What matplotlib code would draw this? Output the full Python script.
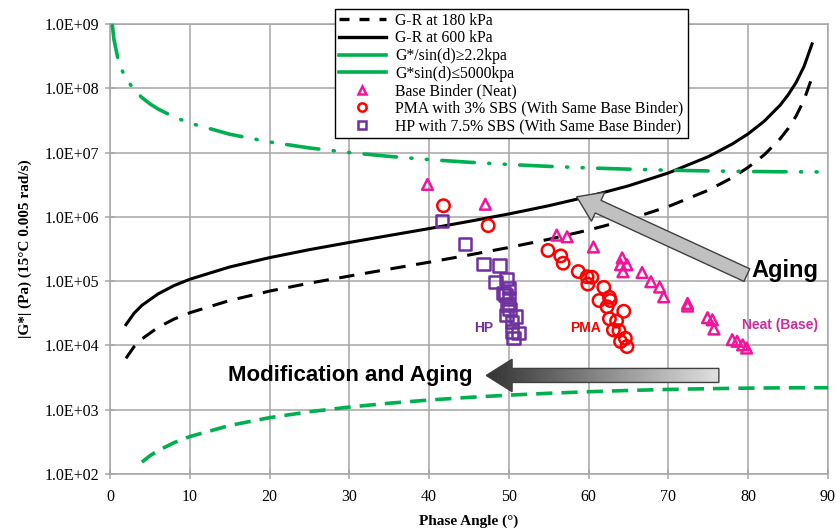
import numpy as np
import matplotlib
matplotlib.use("Agg")
from matplotlib import pyplot as plt
from matplotlib.lines import Line2D
from matplotlib.patches import Polygon

# phase angle (deg) sample points for the criteria curves
gr_angle = [2, 3, 4, 6, 8, 10, 15, 20, 25, 30, 35, 40, 45, 50, 55, 60, 65, 70,
            75, 78, 80, 82, 84, 85, 86, 87, 88]
gr_180 = [6.3e3, 9.5e3, 1.26e4, 1.9e4, 2.56e4, 3.22e4, 5.0e4, 7.0e4, 9.3e4, 1.2e5,
          1.54e5, 1.97e5, 2.55e5, 3.34e5, 4.48e5, 6.24e5, 9.1e5, 1.45e6, 2.6e6,
          4.07e6, 5.9e6, 9.2e6, 1.64e7, 2.36e7, 3.7e7, 6.6e7, 1.48e8]
gr_600 = [2.1e4, 3.15e4, 4.2e4, 6.3e4, 8.5e4, 1.07e5, 1.66e5, 2.32e5, 3.09e5, 4.0e5,
          5.13e5, 6.57e5, 8.5e5, 1.11e6, 1.49e6, 2.08e6, 3.04e6, 4.82e6, 8.65e6,
          1.36e7, 1.96e7, 3.07e7, 5.46e7, 7.9e7, 1.23e8, 2.19e8, 4.9e8]

top_angle = [0.3, 0.5, 1, 1.5, 2, 3, 4, 5, 6, 8, 10, 15, 20, 25, 30, 35, 40, 45, 50,
             55, 60, 65, 70, 75, 80, 85, 90]
top_g = [9.5e8, 5.7e8, 2.86e8, 1.91e8, 1.43e8, 9.55e7, 7.17e7, 5.74e7, 4.78e7,
         3.59e7, 2.88e7, 1.93e7, 1.46e7, 1.18e7, 1.0e7, 8.72e6, 7.78e6, 7.07e6,
         6.53e6, 6.1e6, 5.77e6, 5.52e6, 5.32e6, 5.18e6, 5.08e6, 5.02e6, 5.0e6]

low_angle = [4, 5, 6, 8, 10, 15, 20, 25, 30, 35, 40, 45, 50, 55, 60, 65, 70, 75,
             80, 85, 90]
low_g = [153, 192, 230, 306, 382, 569, 752, 930, 1100, 1262, 1414, 1556, 1685,
         1802, 1905, 1994, 2067, 2125, 2167, 2192, 2200]

# measured binders
neat_x = [39.8, 47.05, 56.0, 57.3, 60.6, 64.2, 64.0, 64.8, 64.3, 66.7, 67.8, 68.9,
          69.4, 72.4, 72.4, 74.9, 75.5, 75.7, 78.0, 78.6, 79.3, 79.8]
neat_y = [3.2e6, 1.57e6, 5.2e5, 4.9e5, 3.4e5, 2.3e5, 1.8e5, 1.8e5, 1.4e5, 1.36e5,
          9.8e4, 8.1e4, 5.7e4, 4.5e4, 4.1e4, 2.7e4, 2.5e4, 1.8e4, 1.23e4, 1.16e4,
          1.02e4, 9.1e3]

pma_x = [41.8, 47.4, 54.9, 56.5, 56.8, 58.7, 59.8, 60.4, 59.9, 61.9, 62.6, 61.3,
         62.7, 62.3, 64.4, 63.5, 62.6, 63.8, 63.1, 64.6, 64.0, 64.8]
pma_y = [1.49e6, 7.3e5, 3.0e5, 2.47e5, 1.9e5, 1.41e5, 1.17e5, 1.15e5, 9.0e4, 8.0e4,
         5.6e4, 5.0e4, 5.0e4, 4.0e4, 3.4e4, 2.4e4, 2.6e4, 1.7e4, 1.74e4, 1.29e4,
         1.15e4, 9.6e3]

hp_x = [41.6, 44.5, 46.8, 48.8, 48.3, 49.7, 50.0, 49.6, 50.0, 49.8, 49.7, 50.9,
        50.4, 51.2, 50.6, 50.4, 49.3, 50.1]
hp_y = [8.6e5, 3.75e5, 1.83e5, 1.74e5, 9.6e4, 1.07e5, 7.8e4, 6.1e4, 5.4e4, 4.3e4,
        3.0e4, 2.8e4, 2.3e4, 1.55e4, 1.3e4, 1.64e4, 6.5e4, 3.7e4]

x_ticks = list(range(0, 91, 10))
y_ticks = [1e2, 1e3, 1e4, 1e5, 1e6, 1e7, 1e8, 1e9]

green = "#00B050"
pink = "#F0169C"
purple = "#7030A0"
grid_gray = "#A6A6A6"
serif = ["Liberation Serif", "DejaVu Serif"]
sans = ["Liberation Sans", "DejaVu Sans"]

fig = plt.figure(figsize=(8.4, 5.29), dpi=100)
ax = fig.add_axes([110 / 840, 1 - 474 / 529, 718 / 840, 450 / 529])
ax.set_yscale("log")

ax.plot(gr_angle, gr_180, color="black", lw=2.2, dashes=(5, 3.5), zorder=3)
ax.plot(gr_angle, gr_600, color="black", lw=2.2, zorder=3)
ax.plot(top_angle, top_g, color=green, lw=2.6, zorder=3,
        dashes=(9, 4, 0.3, 4, 0.3, 4), dash_capstyle="round")
ax.plot(low_angle, low_g, color=green, lw=2.6, dashes=(4.5, 2.5), zorder=3)

ax.scatter(neat_x, neat_y, marker="^", s=60, facecolors="none", edgecolors=pink,
           linewidths=1.8, zorder=4)
ax.scatter(pma_x, pma_y, marker="o", s=80, facecolors="none", edgecolors="red",
           linewidths=1.8, zorder=4)
ax.scatter(hp_x, hp_y, marker="s", s=80, facecolors="none", edgecolors=purple,
           linewidths=1.8, zorder=4)

ax.set_xlim(0, 90)
ax.set_ylim(1e2, 1e9)
ax.set_xticks(x_ticks)
ax.set_yticks(y_ticks)
ax.yaxis.set_minor_locator(matplotlib.ticker.NullLocator())
ax.set_yticklabels([f"{v:.1E}" for v in y_ticks])
ax.grid(True, color=grid_gray, lw=1.1, zorder=0)
ax.set_axisbelow(True)
for sp in ax.spines.values():
    sp.set_color(grid_gray)
    sp.set_linewidth(1.1)
ax.tick_params(direction="inout", length=7, color=grid_gray, width=1.1,
               labelsize=11.5)
ax.tick_params(axis="x", pad=7)
ax.tick_params(axis="y", pad=4)
for lab in ax.get_xticklabels() + ax.get_yticklabels():
    lab.set_family(serif)
ax.set_xlabel("Phase Angle (°)", family=serif, fontweight="bold", fontsize=11,
              labelpad=7)
ax.set_ylabel("|G*| (Pa) (15°C 0.005 rad/s)", family=serif, fontweight="bold",
              fontsize=11, labelpad=9)

# group labels
ax.text(0.52, 0.325, "HP", transform=ax.transAxes, color=purple, fontsize=10,
        fontweight="bold", family=sans, ha="center", va="center")
ax.text(0.662, 0.325, "PMA", transform=ax.transAxes, color="red", fontsize=10,
        fontweight="bold", family=sans, ha="center", va="center")
ax.text(0.933, 0.33, "Neat (Base)", transform=ax.transAxes, color="#C8309A",
        fontsize=10, fontweight="bold", family=sans, ha="center", va="center")

# aging arrow
ax.annotate("", xy=(0.650, 0.616), xytext=(0.887, 0.442),
            xycoords="axes fraction", textcoords="axes fraction",
            arrowprops=dict(arrowstyle="simple,head_width=1.15,head_length=0.85,tail_width=0.5",
                            mutation_scale=20, fc="#C0C0C0", ec="#404040", lw=1,
                            shrinkA=0, shrinkB=0), zorder=6)
ax.text(0.893, 0.452, "Aging", transform=ax.transAxes, fontsize=17,
        fontweight="bold", family=sans, ha="left", va="center", zorder=6)

# gradient arrow
tip, base, tail, yc = 0.524, 0.560, 0.848, 0.219
sh, hh = 0.0156, 0.036
verts = [(tip, yc), (base, yc + hh), (base, yc + sh), (tail, yc + sh),
         (tail, yc - sh), (base, yc - sh), (base, yc - hh)]
arrow = Polygon(verts, closed=True, transform=ax.transAxes, fc="none",
                ec="#404040", lw=1, zorder=7)
ax.add_patch(arrow)
grad = np.linspace(0.2, 0.88, 256).reshape(1, -1)
im = ax.imshow(grad, cmap="gray", vmin=0, vmax=1, aspect="auto",
               extent=(tip, tail, yc - hh, yc + hh), transform=ax.transAxes,
               zorder=6, interpolation="bilinear")
im.set_clip_path(arrow)
ax.set_xlim(0, 90)
ax.set_ylim(1e2, 1e9)
ax.text(0.505, 0.219, "Modification and Aging", transform=ax.transAxes,
        fontsize=16, fontweight="bold", family=sans, ha="right", va="center",
        zorder=6)

handles = [
    Line2D([], [], color="black", lw=2.4, dashes=(3, 3)),
    Line2D([], [], color="black", lw=2.4),
    Line2D([], [], color=green, lw=2.6),
    Line2D([], [], color=green, lw=2.6),
    Line2D([], [], ls="none", marker="^", mfc="none", mec=pink, mew=1.8, ms=6),
    Line2D([], [], ls="none", marker="o", mfc="none", mec="red", mew=1.8, ms=6),
    Line2D([], [], ls="none", marker="s", mfc="none", mec=purple, mew=1.8, ms=6),
]
labels = ["G-R at 180 kPa", "G-R at 600 kPa", "G*/sin(d)≥2.2kpa",
          "G*sin(d)≤5000kpa", "Base Binder (Neat)",
          "PMA with 3% SBS (With Same Base Binder)",
          "HP with 7.5% SBS (With Same Base Binder)"]
leg = fig.legend(handles, labels, loc="upper left",
                 bbox_to_anchor=(335 / 840, 1 - 9 / 529),
                 prop={"family": serif, "size": 11.3}, frameon=True,
                 fancybox=False, edgecolor="black", framealpha=1,
                 handlelength=3.0, labelspacing=0.1, borderpad=0.25,
                 handletextpad=0.6, borderaxespad=0)
leg.get_frame().set_linewidth(1.0)
leg.set_zorder(10)

fig.savefig("out.png", dpi=100)
